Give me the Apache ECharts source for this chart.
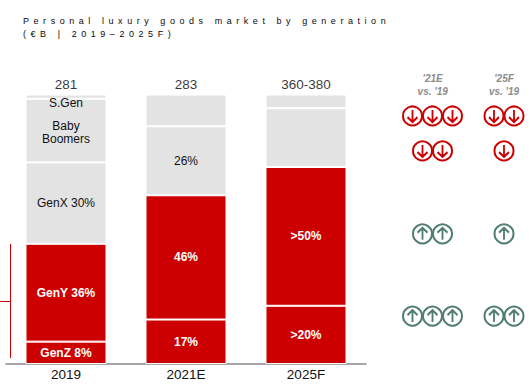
<!DOCTYPE html>
<html><head><meta charset="utf-8">
<script src="https://cdn.jsdelivr.net/npm/echarts@6/dist/echarts.min.js"></script>
<style>
html,body{margin:0;padding:0;background:#fff}
#c{width:532px;height:391px}
#c svg text[fill="#0a0a0a"]{letter-spacing:4.55px}
</style></head><body><div id="c"></div>
<script>
const TITLE = "Personal luxury goods market by generation\n(€B | 2019–2025F)";
const categories = ["2019","2021E","2025F"];
const totals = ["281","283","360-380"];
const genZ = [8.3,16.5,21.6];
const genY = [36.3,46.1,51.5];
const genX = [30.2,25.6,21.8];
const boomers = [23.6,11.8,5.1];
const sGen = [1.6,null,null];
const genZLabels = ["GenZ 8%","17%",">20%"];
const genYLabels = ["GenY 36%","46%",">50%"];
const genXLabels = ["GenX 30%","26%",""];
const boomerLabels = ["Baby\nBoomers","",""];
const sGenLabels = ["S.Gen","",""];
const changeHeaders = ["'21E\nvs. '19","'25F\nvs. '19"];
// arrows per generation row: [row level, '21E count, '25F count]
const rowLevels = [92.2,79.2,48.4,17.8];
const counts21E = [3,2,2,3];
const counts25F = [2,1,1,2];
const rowDirections = ["down","down","up","up"];

const RED="#cc0000",GRAY="#e3e3e3",GREEN="#4f7d6b";
const COLS=[42.5,114], STEP=20;
const arrowDown='path://M5 0V11M0.5 6.5L5 11L9.5 6.5';
const arrowUp='path://M5 11V0M0.5 4.5L5 0L9.5 4.5';
const pts=[];
rowLevels.forEach((lv,r)=>{
  [counts21E[r],counts25F[r]].forEach((n,c)=>{
    for(let i=0;i<n;i++) pts.push({dir:rowDirections[r],value:[COLS[c]+(i-(n-1)/2)*STEP,lv]});
  });
});
const mkBar=(name,vals,labels,color,txt,bold,extra)=>({
  name,type:'bar',stack:'g',xAxisIndex:0,yAxisIndex:0,barWidth:81,data:vals,
  itemStyle:{color,borderColor:'#fff',borderWidth:1},
  label:Object.assign({show:true,position:'inside',formatter:p=>labels[p.dataIndex],
    color:txt,fontFamily:'Liberation Sans',fontSize:12,lineHeight:13,fontWeight:bold?'bold':'normal'},extra||{})
});
const mkIcons=(dir,color)=>[
 {type:'scatter',xAxisIndex:1,yAxisIndex:1,symbol:'circle',symbolSize:19,silent:true,z:5,
  itemStyle:{color:'#fff',borderColor:color,borderWidth:2,opacity:1},
  data:pts.filter(p=>p.dir===dir).map(p=>p.value)},
 {type:'scatter',xAxisIndex:1,yAxisIndex:1,symbol:dir==='down'?arrowDown:arrowUp,symbolSize:[10,12],silent:true,z:6,
  itemStyle:{color:'none',borderColor:color,borderWidth:2,opacity:1},
  data:pts.filter(p=>p.dir===dir).map(p=>p.value)}
];
const chart=echarts.init(document.getElementById('c'),null,{renderer:'svg'});
chart.setOption({
  animation:false,
  backgroundColor:'#fff',
  title:{text:TITLE,left:23,top:14,padding:0,textStyle:{color:'#0a0a0a',fontFamily:'Liberation Sans',fontSize:9,fontWeight:'normal',lineHeight:13}},
  grid:[{left:6,top:94.5,width:360,height:269.5},{left:390,top:95,width:142,height:269}],
  xAxis:[
   {type:'category',gridIndex:0,data:categories,axisTick:{show:false},
    axisLine:{lineStyle:{color:'#8a8a8a',width:1.5}},
    axisLabel:{color:'#111',fontFamily:'Liberation Sans',fontSize:13.5,margin:3}},
   {type:'value',gridIndex:1,min:0,max:142,show:false}
  ],
  yAxis:[
   {type:'value',gridIndex:0,min:0,max:100,show:false},
   {type:'value',gridIndex:1,min:0,max:100,show:false}
  ],
  series:[
   mkBar('GenZ',genZ,genZLabels,RED,'#fff',true),
   mkBar('GenY',genY,genYLabels,RED,'#fff',true),
   mkBar('GenX',genX,genXLabels,GRAY,'#111',false),
   mkBar('Baby Boomers',boomers,boomerLabels,GRAY,'#111',false,{offset:[0,2]}),
   mkBar('S.Gen',sGen,sGenLabels,GRAY,'#111',false,{offset:[0,6]}),
   {type:'scatter',xAxisIndex:0,yAxisIndex:0,symbolSize:0,silent:true,data:totals.map((t,i)=>[categories[i],100]),
    label:{show:true,position:'top',distance:3,formatter:p=>totals[p.dataIndex],color:'#000',fontFamily:'Liberation Sans',fontSize:13.5}},
   ...mkIcons('down',RED),
   ...mkIcons('up',GREEN)
  ],
  graphic:[
   {type:'line',shape:{x1:10.5,y1:244,x2:10.5,y2:358},style:{stroke:RED,lineWidth:1}},
   {type:'line',shape:{x1:0,y1:301.5,x2:10,y2:301.5},style:{stroke:RED,lineWidth:1}},
   {type:'text',x:432.7,y:85,style:{text:changeHeaders[0],align:'center',verticalAlign:'middle',fill:'#8c8c8c',font:'italic bold 10px "Liberation Sans"',lineHeight:13}},
   {type:'text',x:504,y:85,style:{text:changeHeaders[1],align:'center',verticalAlign:'middle',fill:'#8c8c8c',font:'italic bold 10px "Liberation Sans"',lineHeight:13}}
  ]
});
</script></body></html>
